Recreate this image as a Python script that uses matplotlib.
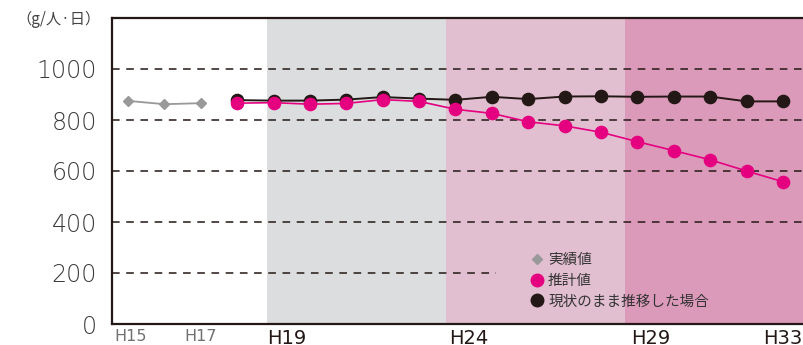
import matplotlib
matplotlib.use("Agg")
import matplotlib.pyplot as plt
from matplotlib.lines import Line2D

plt.rcParams['font.family'] = ['Noto Sans CJK JP', 'DejaVu Sans']

# --- data -------------------------------------------------------------
actual_years = [15, 16, 17]
actual_values = [875, 862, 866]

years = list(range(18, 34))
estimate_values = [866, 868, 862, 865, 880, 873, 842, 826, 793, 777,
                   752, 715, 680, 644, 600, 558]
unchanged_values = [878, 876, 876, 880, 890, 884, 879, 891, 882, 892,
                    893, 891, 892, 892, 873, 873]

xtick_years = [15, 17, 19, 24, 29, 33]
xtick_labels = ["H15", "H17", "H19", "H24", "H29", "H33"]
yticks = [0, 200, 400, 600, 800, 1000]

legend_labels = ["実績値", "推計値", "現状のまま推移した場合"]
unit_label = "（g/人·日）"

# period shading: (start, end, colour)
periods = [(18.81, 23.75, "#dcddde"),
           (23.75, 28.66, "#e2bfd0"),
           (28.66, 33.8, "#dc9abb")]

# --- styling ----------------------------------------------------------
ink = "#231815"
magenta = "#e4007f"
grey = "#999999"

fig = plt.figure(figsize=(8.04, 3.45), dpi=100)
ax = fig.add_axes([112 / 804, 21 / 345, (804 - 112) / 804, 306 / 345])
ax.set_xlim(14.56, 33.58)
ax.set_ylim(0, 1200)

for x0, x1, c in periods:
    ax.axvspan(x0, x1, color=c, lw=0, zorder=0)

# dashed reference lines
for v in yticks[1:]:
    xmax = (25.12 - 14.56) / (33.58 - 14.56) if v == 200 else 1.0
    ax.axhline(v, xmin=0, xmax=xmax, color=ink, lw=1.1,
               dashes=(5.0, 4.3), zorder=1)

ax.plot(actual_years, actual_values, color=grey, lw=1.3, marker="D",
        ms=5.5, mfc=grey, mec=grey, zorder=3)
ax.plot(years, unchanged_values, color=ink, lw=1.4, marker="o",
        ms=8.8, mfc=ink, mec=ink, zorder=3)
ax.plot(years, estimate_values, color=magenta, lw=1.2, marker="o",
        ms=8.8, mfc=magenta, mec=magenta, zorder=4)

for s in ("left", "top", "bottom"):
    ax.spines[s].set_color(ink)
    ax.spines[s].set_linewidth(1.6)
ax.spines["right"].set_visible(False)

ax.set_yticks(yticks)
ax.set_yticklabels([str(v) for v in yticks], fontsize=17,
                   family="DejaVu Sans", fontweight="light", color="#3a3a3a")
ax.tick_params(axis="y", length=0, pad=11)
ax.set_xticks([])

# x labels: early years centred on the point, period labels at the period start
label_offsets = [0.08, 0.0, 0.36, 0.36, 0.38, 0.0]
for yr, lab, off in zip(xtick_years, xtick_labels, label_offsets):
    major = yr >= 19
    ax.text(yr + off, -0.017, lab, transform=ax.get_xaxis_transform(),
            ha="center", va="top", family="DejaVu Sans",
            fontsize=14 if major else 11.5,
            color=ink if major else "#707070", clip_on=False)

fig.text(101 / 804, 1 - 19 / 345, unit_label, ha="right", va="center",
         fontsize=11, color="#444444")

handles = [
    Line2D([], [], ls="none", marker="D", ms=5, color=grey),
    Line2D([], [], ls="none", marker="o", ms=9, color=magenta),
    Line2D([], [], ls="none", marker="o", ms=9, color=ink),
]
leg = ax.legend(handles, legend_labels, loc="upper left",
                bbox_to_anchor=(524 / 804, 1 - 246 / 345),
                bbox_transform=fig.transFigure, frameon=False,
                handlelength=0.8, handletextpad=0.35, labelspacing=0.45,
                borderpad=0, prop={"size": 10.5})
for t in leg.get_texts():
    t.set_color("#333333")

fig.savefig("out.png", dpi=100)
